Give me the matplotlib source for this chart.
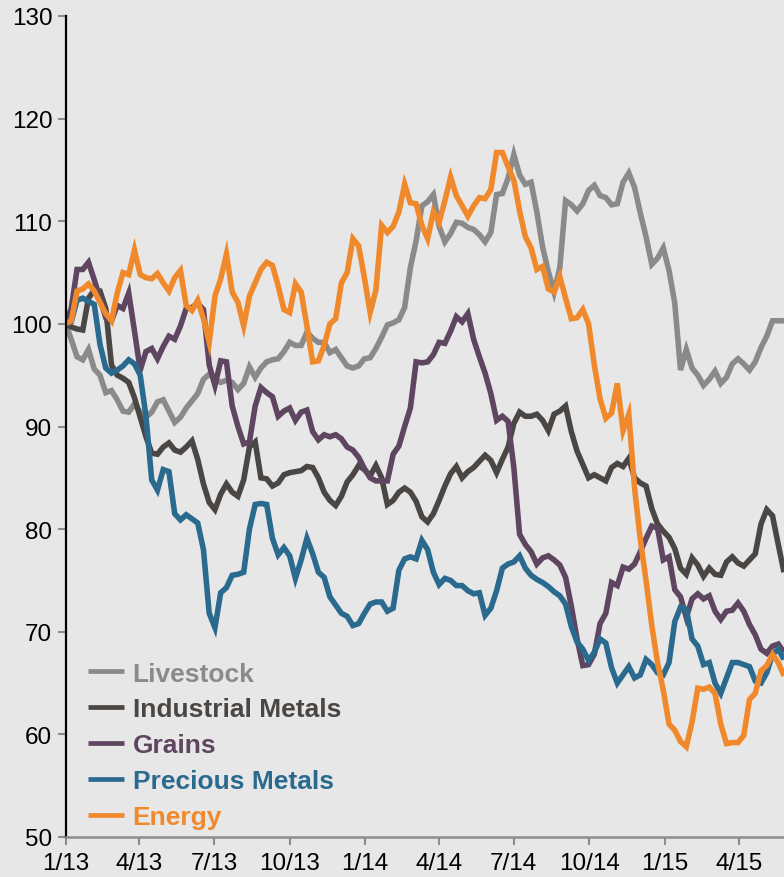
import matplotlib
matplotlib.use("Agg")
import matplotlib.pyplot as plt
import pandas as pd

# Weekly index levels (start = 100)
dates = pd.date_range("2013-01-01", periods=126, freq="7D")

livestock = [
    100, 98.5, 96.8, 96.5, 97.5, 95.6, 95.0, 93.3, 93.5, 92.6,
    91.5, 91.4, 92.2, 91.4, 90.9, 91.4, 92.4, 92.6, 91.5, 90.4,
    90.9, 91.8, 92.5, 93.2, 94.6, 95.1, 94.6, 94.3, 94.5, 94.3,
    93.6, 94.2, 95.8, 94.8, 95.7, 96.3, 96.5, 96.6, 97.3, 98.2,
    97.9, 97.9, 99.2, 98.6, 98.2, 98.2, 97.2, 97.5, 96.7, 95.9,
    95.7, 95.9, 96.6, 96.7, 97.6, 98.7, 99.9, 100.1, 100.4, 101.6,
    105.5, 108.1, 111.5, 111.9, 112.6, 109.5, 108.0, 108.8, 109.9, 109.8,
    109.4, 109.2, 108.7, 108.0, 108.9, 112.6, 112.7, 114.2, 116.5, 114.5,
    113.6, 113.8, 110.9, 107.5, 105.1, 103.1, 105.5, 112.0, 111.6, 111.0,
    111.7, 113.0, 113.5, 112.5, 112.3, 111.6, 111.7, 113.8, 114.7, 113.3,
    110.8, 108.5, 105.8, 106.4, 107.4, 105.2, 102.0, 95.5, 97.5, 95.7,
    95.0, 94.0, 94.6, 95.4, 94.2, 94.8, 96.1, 96.6, 96.1, 95.5,
    96.3, 97.7, 98.8, 100.3, 100.3, 100.3,
]

industrial_metals = [
    100, 99.7, 99.5, 99.4, 102.5, 103.3, 103.2, 101.5, 96.0, 95.0,
    94.7, 94.3, 92.8, 90.9, 89.0, 87.4, 87.3, 88.0, 88.4, 87.7,
    87.5, 88.0, 88.6, 86.8, 84.4, 82.6, 81.9, 83.4, 84.4, 83.6,
    83.2, 84.8, 88.0, 88.5, 85.0, 84.9, 84.2, 84.5, 85.3, 85.5,
    85.6, 85.7, 86.1, 86.0, 85.0, 83.6, 82.8, 82.3, 83.2, 84.6,
    85.3, 86.2, 85.8, 85.2, 86.2, 85.0, 82.4, 82.8, 83.6, 84.0,
    83.6, 82.7, 81.2, 80.7, 81.5, 82.8, 84.2, 85.4, 86.1, 85.0,
    85.6, 86.0, 86.6, 87.2, 86.7, 85.5, 86.8, 88.0, 90.3, 91.4,
    91.0, 91.0, 91.2, 90.6, 89.6, 91.2, 91.5, 92.0, 89.5, 87.6,
    86.3, 85.0, 85.3, 85.0, 84.7, 86.0, 86.4, 86.1, 86.9, 85.0,
    84.5, 84.2, 82.0, 80.5, 79.8, 79.2, 78.1, 76.2, 75.6, 77.2,
    76.5, 75.4, 76.2, 75.6, 75.5, 76.8, 77.3, 76.7, 76.4, 77.0,
    77.6, 80.5, 81.9, 81.3, 78.5, 75.8,
]

grains = [
    100, 101.5, 105.3, 105.3, 106.0, 104.3, 102.5, 100.6, 100.3, 101.8,
    101.5, 103.0, 99.3, 95.5, 97.3, 97.6, 96.6, 97.8, 98.8, 98.5,
    99.8, 101.5, 101.6, 102.0, 101.4, 96.0, 94.0, 96.4, 96.3, 92.0,
    90.0, 88.3, 88.5, 92.0, 93.8, 93.3, 92.9, 91.0, 91.5, 91.8,
    90.6, 91.4, 91.6, 89.5, 88.7, 89.2, 89.0, 89.2, 88.8, 88.0,
    87.7, 87.0, 85.9, 85.0, 84.7, 84.7, 84.7, 87.3, 88.1, 90.0,
    91.8, 96.3, 96.2, 96.3, 97.0, 98.2, 98.1, 99.3, 100.7, 100.2,
    101.0, 98.5, 96.8, 95.2, 93.2, 90.6, 91.0, 90.5, 86.0, 79.5,
    78.5, 77.8, 76.6, 77.2, 77.4, 77.0, 76.5, 75.3, 72.5, 69.3,
    66.7, 66.8, 67.8, 70.8, 71.8, 74.8, 74.5, 76.3, 76.1, 76.6,
    77.8, 79.1, 80.3, 80.1, 77.0, 77.3, 74.1, 73.4, 71.4, 73.2,
    73.7, 73.2, 73.5, 72.0, 71.2, 72.0, 72.1, 72.8, 72.0, 70.7,
    69.7, 68.3, 67.9, 68.6, 68.8, 68.0,
]

precious_metals = [
    100, 100.2, 102.3, 102.5, 102.2, 101.9, 98.0, 95.7, 95.2, 95.5,
    95.9, 96.5, 96.1, 95.0, 91.0, 84.8, 83.8, 85.8, 85.6, 81.5,
    80.9, 81.4, 81.0, 80.6, 78.0, 71.8, 70.4, 73.8, 74.3, 75.5,
    75.6, 75.8, 80.0, 82.4, 82.5, 82.4, 79.1, 77.5, 78.2, 77.4,
    75.2, 77.0, 79.1, 77.6, 75.8, 75.3, 73.4, 72.6, 71.8, 71.5,
    70.6, 70.8, 71.8, 72.7, 72.9, 72.9, 72.0, 72.3, 76.0, 77.1,
    77.3, 77.1, 78.9, 78.0, 75.8, 74.6, 75.2, 75.0, 74.5, 74.5,
    74.0, 73.7, 73.8, 71.6, 72.3, 74.0, 76.2, 76.6, 76.8, 77.4,
    76.2, 75.5, 75.1, 74.8, 74.4, 73.9, 73.5, 72.7, 70.5, 69.0,
    68.3, 67.2, 68.0, 69.3, 68.9, 66.5, 65.0, 65.8, 66.6, 65.5,
    65.8, 67.3, 66.8, 66.0, 65.8, 67.0, 71.0, 72.4, 72.2, 69.3,
    68.6, 66.8, 67.0, 65.0, 64.0, 65.5, 67.0, 67.0, 66.8, 66.6,
    65.2, 65.0, 66.0, 67.8, 68.3, 67.3,
]

energy = [
    100, 100.3, 103.2, 103.4, 103.9, 103.2, 102.1, 101.0, 100.3, 103.0,
    105.0, 104.8, 107.2, 104.8, 104.5, 104.4, 104.9, 104.0, 103.2, 104.5,
    105.2, 101.8, 101.3, 102.3, 100.5, 98.2, 102.7, 104.4, 106.8, 103.1,
    102.1, 99.8, 102.7, 104.0, 105.3, 106.0, 105.7, 103.7, 101.4, 101.1,
    103.9, 103.1, 99.8, 96.3, 96.4, 97.9, 100.0, 100.5, 104.0, 105.0,
    108.3, 107.6, 104.5, 101.1, 103.3, 109.6, 108.9, 109.5, 110.9, 113.6,
    111.8, 111.7, 109.6, 108.3, 110.9, 109.9, 112.0, 114.3, 112.5, 111.5,
    110.5, 111.5, 112.3, 112.2, 113.1, 116.7, 116.7, 115.3, 114.0, 111.0,
    108.5, 107.4, 105.3, 105.6, 103.4, 103.1, 104.6, 102.5, 100.5, 100.6,
    101.4, 100.0, 96.0, 92.7, 90.8, 91.3, 94.2, 89.6, 91.2, 84.0,
    79.0, 75.0, 70.6, 67.0, 64.3, 61.0, 60.4, 59.3, 58.8, 61.2,
    64.5, 64.4, 64.6, 64.0, 61.0, 59.1, 59.2, 59.2, 59.9, 63.4,
    64.0, 66.2, 66.7, 67.8, 67.0, 65.7,
]

series_names = ["Livestock", "Industrial Metals", "Grains", "Precious Metals", "Energy"]
series_values = [livestock, industrial_metals, grains, precious_metals, energy]
series_colors = ["#8a8a8a", "#4a4644", "#5e4660", "#2b6a8f", "#f0892b"]

tick_dates = pd.to_datetime([
    "2013-01-01", "2013-04-01", "2013-07-01", "2013-10-01",
    "2014-01-01", "2014-04-01", "2014-07-01", "2014-10-01",
    "2015-01-01", "2015-04-01",
])
tick_labels = [f"{d.month}/{d:%y}" for d in tick_dates]
y_ticks = [50, 60, 70, 80, 90, 100, 110, 120, 130]

plt.rcParams["font.family"] = ["Liberation Sans", "DejaVu Sans"]

BG = "#e7e7e7"
W, H = 784, 878
fig = plt.figure(figsize=(W / 100, H / 100), dpi=100, facecolor=BG)
ax = fig.add_axes([65.5 / W, 40 / H, (W - 65.5) / W, 821 / H], facecolor=BG)

for name, vals, col in zip(series_names, series_values, series_colors):
    ax.plot(dates, vals, color=col, lw=4.0, label=name,
            solid_joinstyle="miter", solid_capstyle="butt")

ax.set_ylim(50, 130)
ax.set_xlim(pd.Timestamp("2013-01-01"), pd.Timestamp("2015-05-26"))
ax.set_yticks(y_ticks)
ax.set_xticks(tick_dates)
ax.set_xticklabels(tick_labels)

for s in ("top", "right"):
    ax.spines[s].set_visible(False)
ax.spines["left"].set_color("black")
ax.spines["left"].set_linewidth(1.6)
ax.spines["bottom"].set_color("#8c8c8c")
ax.spines["bottom"].set_linewidth(1.8)

ax.tick_params(axis="y", direction="out", length=6, width=1.5, color="#8c8c8c",
               labelsize=17.5, pad=3.5, labelcolor="black")
ax.tick_params(axis="x", direction="out", length=5.5, width=1.5, color="#8c8c8c",
               labelsize=17.5, pad=5, labelcolor="black")

leg = ax.legend(loc="upper left", bbox_to_anchor=(0.016, 0.2266), frameon=False,
                prop={"weight": "bold", "size": 19}, labelcolor="linecolor",
                handlelength=1.37, handletextpad=0.34, labelspacing=0.45,
                borderaxespad=0, borderpad=0.4)
for h in leg.get_lines():
    h.set_linewidth(3.4)

fig.savefig("out.png", dpi=100, facecolor=BG)
